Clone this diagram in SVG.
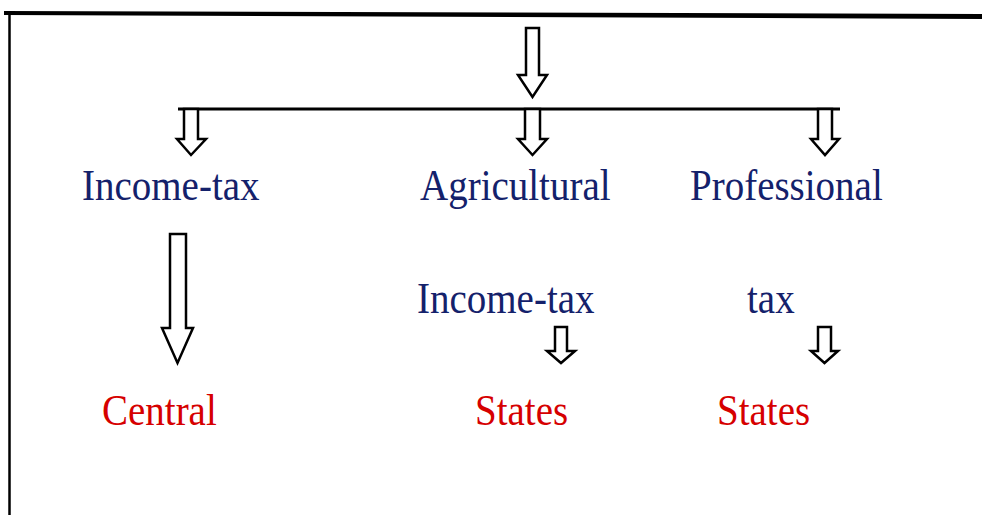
<svg xmlns="http://www.w3.org/2000/svg" width="982" height="515" viewBox="0 0 982 515">
<style>
.arr{fill:#fff;stroke:#000;stroke-width:2.5;stroke-linejoin:miter}
.t{font-family:"Liberation Serif","Times New Roman",serif;font-size:39px}
.b{fill:#14216b}
.r{fill:#d60000}
</style>
<rect width="982" height="515" fill="#fff"/>
<g id="frame">
<polygon points="4,11 982,14 982,19 4,15" fill="#000"/>
<line x1="9.5" y1="12" x2="9.5" y2="515" stroke="#000" stroke-width="2.5"/>
</g>
<g id="connectors">
<polygon class="arr" points="526,28 539,28 539,75 547,75 532.5,97 518,75 526,75"/>
<line x1="178" y1="109" x2="840" y2="109" stroke="#000" stroke-width="3"/>
<polygon class="arr" points="184,109 198,109 198,139 206,139 191,155 177,139 184,139"/>
<polygon class="arr" points="525,109 540,109 540,139 547,139 532.5,155 518,139 525,139"/>
<polygon class="arr" points="818,109 832,109 832,139 839,139 825,155 811,139 818,139"/>
<polygon class="arr" points="170,234 186,234 186,328 193,328 177.5,363 162,328 170,328"/>
<polygon class="arr" points="555,327 567,327 567,351 575,351 561,363 547,351 555,351"/>
<polygon class="arr" points="818,327 831,327 831,351 838,351 824.5,363 811,351 818,351"/>
</g>
<g id="n-income-tax"><text class="t b" transform="translate(82,200) scale(1,1.12)">Income-tax</text></g>
<g id="n-agricultural"><text class="t b" transform="translate(420,200) scale(1,1.12)">Agricultural</text><text class="t b" transform="translate(417,313) scale(1,1.12)">Income-tax</text></g>
<g id="n-professional"><text class="t b" transform="translate(690,200) scale(1,1.12)">Professional</text><text class="t b" transform="translate(747,313) scale(1,1.12)">tax</text></g>
<g id="n-central"><text class="t r" transform="translate(102,425) scale(1,1.12)">Central</text></g>
<g id="n-states1"><text class="t r" transform="translate(475,425) scale(1,1.12)">States</text></g>
<g id="n-states2"><text class="t r" transform="translate(717,425) scale(1,1.12)">States</text></g>
</svg>
